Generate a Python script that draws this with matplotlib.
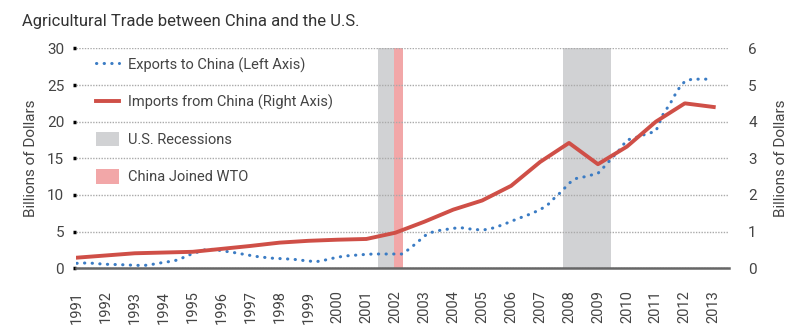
import matplotlib
matplotlib.use("Agg")
import matplotlib.pyplot as plt
from matplotlib.lines import Line2D
from matplotlib.patches import Patch
import numpy as np

plt.rcParams['font.family'] = ['Roboto', 'DejaVu Sans']

# exports to China, quarterly, billions of dollars (left axis)
export_t = 1991 + np.arange(88) / 4.0
exports = [0.68, 0.72, 0.70, 0.62, 0.55, 0.52, 0.50, 0.45,
           0.42, 0.38, 0.45, 0.65, 0.80, 0.95, 1.15, 1.60,
           2.00, 2.30, 2.63, 2.55, 2.40, 2.25, 2.10, 1.92,
           1.75, 1.59, 1.48, 1.38, 1.33, 1.28, 1.22, 1.10,
           1.00, 0.90, 1.05, 1.30, 1.50, 1.68, 1.75, 1.83,
           1.90, 1.95, 1.95, 1.95, 1.95, 1.95, 2.70, 3.50,
           4.40, 4.90, 5.15, 5.30, 5.45, 5.55, 5.40, 5.30,
           5.22, 5.35, 5.65, 6.00, 6.40, 6.80, 7.15, 7.55,
           8.00, 8.60, 9.60, 10.50, 11.60, 12.25, 12.45, 12.70,
           12.95, 14.00, 15.10, 16.20, 17.50, 17.75, 18.10, 18.40,
           18.70, 21.00, 22.50, 24.30, 25.50, 25.80, 25.80, 25.80]

# imports from China, annual, billions of dollars (right axis)
years = list(range(1991, 2014))
imports = [0.29, 0.35, 0.41, 0.43, 0.45, 0.53, 0.61, 0.70, 0.75, 0.78,
           0.80, 0.97, 1.27, 1.60, 1.85, 2.25, 2.90, 3.42, 2.84, 3.32,
           4.00, 4.50, 4.40]

recessions = [(2001.4, 2001.95), (2007.8, 2009.45)]
wto = (2001.95, 2002.27)

blue = '#3b7cc4'
red = '#cf4f47'
gray = '#d1d2d4'
pink = '#f2a7a8'
txt = '#444444'

fig = plt.figure(figsize=(8, 3.29), dpi=100)
ax = fig.add_axes([0.095, 0.1845, 0.816, 0.6685])
ax2 = ax.twinx()

for a, b in recessions:
    ax.axvspan(a, b, color=gray, lw=0, zorder=0)
ax.axvspan(wto[0], wto[1], color=pink, lw=0, zorder=0)

ax.plot(export_t, exports, color=blue, lw=2.2, linestyle=(0, (0.1, 2.4)),
        dash_capstyle='round', zorder=3)
ax2.plot(years, imports, color=red, lw=2.8, zorder=3)

ax.set_xlim(1990.97, 2013.52)
ax.set_ylim(0, 30)
ax2.set_ylim(0, 6)
ax.set_yticks(range(0, 31, 5))
ax2.set_yticks(range(0, 7))
ax.set_xticks(years)
ax.set_xticklabels([str(y) for y in years], rotation=90, fontsize=10.5, color=txt)

ax.yaxis.grid(True, color='#aaaaaa', lw=1, linestyle=(0, (1, 1)))
ax.set_axisbelow(True)

for a in (ax, ax2):
    for s in ('left', 'right', 'top'):
        a.spines[s].set_visible(False)
ax2.spines['bottom'].set_visible(False)
ax.spines['bottom'].set_color('#666666')
ax.spines['bottom'].set_linewidth(1.8)
ax.spines['bottom'].set_zorder(4)

ax.tick_params(axis='y', length=2.5, width=2.5, color='black', pad=6,
               labelsize=11, labelcolor=txt)
ax.tick_params(axis='x', length=0, pad=16)
ax2.tick_params(axis='y', length=0, pad=14, labelsize=11, labelcolor=txt)

ax.set_ylabel('Billions of Dollars', fontsize=11, color=txt, labelpad=6)
ax2.set_ylabel('Billions of Dollars', fontsize=11, color=txt, labelpad=12)

fig.text(0.027, 0.935, 'Agricultural Trade between China and the U.S.',
         fontsize=12, color='#333333', va='center', ha='left')

handles = [Line2D([], [], color=blue, lw=2.2, linestyle=(0, (0.1, 2.4)),
                  dash_capstyle='round'),
           Line2D([], [], color=red, lw=2.8),
           Patch(color=gray, lw=0),
           Patch(color=pink, lw=0)]
labels = ['Exports to China (Left Axis)', 'Imports from China (Right Axis)',
          'U.S. Recessions', 'China Joined WTO']
leg = ax2.legend(handles, labels, loc='upper left', bbox_to_anchor=(0.01, 1.02),
                 frameon=False, fontsize=10.5, labelspacing=1.5, handlelength=1.6,
                 handleheight=1.15, handletextpad=0.6, labelcolor=txt)
leg.set_zorder(5)

fig.savefig('out.png', dpi=100)
